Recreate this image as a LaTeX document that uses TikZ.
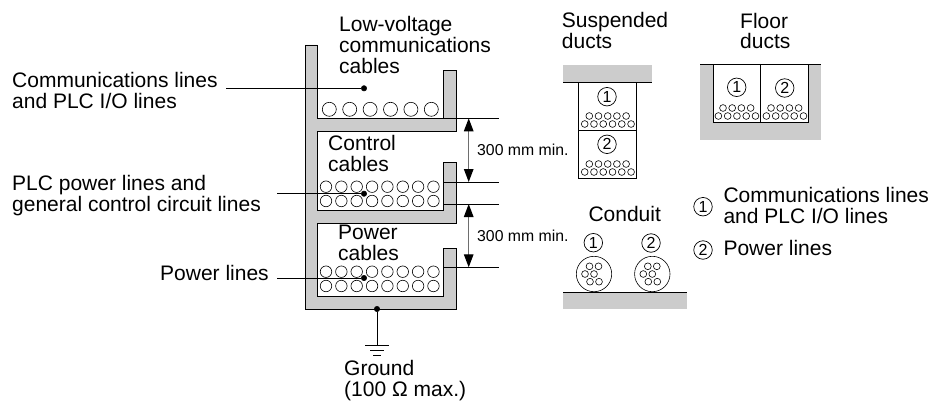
\documentclass[tikz,border=0pt]{standalone}
\usepackage{fontspec}
\setmainfont{Liberation Sans}
\usetikzlibrary{arrows.meta}
\definecolor{tray}{RGB}{204,204,204}
\definecolor{shaft}{RGB}{110,110,110}
\newcommand{\ductcables}[4]{%
  \foreach \i in {1,...,#4} \node[ductcable] (c#1a\i) at (#2+9.2*\i-9.2,#3-8) {};
  \foreach \i in {0,...,#4} \node[ductcable] (c#1b\i) at (#2-4.6+9.27*\i,#3) {};
}
\newcommand{\conduitcables}[3]{%
  \foreach \dx/\dy [count=\i] in {-4.5/-7.7, 4.5/-7.7, -9/0, 0/0, -4/7.7, 5/7.7}
    \node[ductcable] (c#1x\i) at (#2+\dx,#3+\dy) {};
}
\begin{document}
\begin{tikzpicture}[x=1pt, y=-1pt,
  label/.style={anchor=base west, align=left, inner sep=0pt, font=\fontsize{21}{20.8}\selectfont},
  small/.style={anchor=base west, inner sep=0pt, font=\fontsize{15.8}{18}\selectfont},
  num/.style={draw, circle, inner sep=0pt, minimum size=18.5pt, line width=0.7pt, font=\fontsize{16}{16}\selectfont},
  dot/.style={draw, fill=black, circle, inner sep=0pt, minimum size=5.5pt},
  cable/.style={draw, circle, inner sep=0pt, line width=0.6pt},
  ductcable/.style={cable, minimum size=6.8pt},
  wire/.style={line width=0.8pt},
  block/.style={fill=tray},
  duct/.style={draw, line width=0.8pt, fill=white},
  dim/.style={{Triangle[black,length=13pt,width=9.5pt]}-{Triangle[black,length=13pt,width=9.5pt]}, shaft, line width=1.3pt}]
  \useasboundingbox (0,0) rectangle (933,401);

  \draw[block, line width=0.8pt] (305,45) -- (317,45) -- (317,118.3) -- (443,118.3) -- (443,70.7) -- (456,70.7)
    -- (456,131) -- (317,131) -- (317,210.3) -- (443,210.3) -- (443,162.7) -- (456,162.7)
    -- (456,223.3) -- (317,223.3) -- (317,296.3) -- (443,296.3) -- (443,248.7) -- (456,248.7)
    -- (456,309) -- (305,309) -- cycle;

  \foreach \i in {0,...,5} \node[cable, minimum size=14pt] (top\i) at (329.3+20.4*\i,109.3) {};
  \foreach \i in {0,...,7} {
    \node[cable, minimum size=11.5pt] (mida\i) at (326+15.35*\i,186.7) {};
    \node[cable, minimum size=11.5pt] (midb\i) at (326+15.35*\i,201) {};
    \node[cable, minimum size=11.5pt] (lowa\i) at (326+15.35*\i,271.7) {};
    \node[cable, minimum size=11.5pt] (lowb\i) at (326+15.35*\i,286) {};
  }

  \node[label] (lowv) at (339,73.3) {Low-voltage\\communications\\cables};
  \node[label] (ctrl) at (328,171.7) {Control\\cables};
  \node[label] (powr) at (338,260.7) {Power\\cables};
  \node[label] (comm) at (12,108.4) {Communications lines\\and PLC I/O lines};
  \node[label] (plc) at (12,211.7) {PLC power lines and\\general control circuit lines};
  \node[label] (pwl) at (160,280) {Power lines};
  \node[label] (gnd) at (344,396.7) {Ground\\(100 Ω max.)};

  \node[dot] (d1) at (364,88.3) {};
  \node[dot] (d2) at (364,193.7) {};
  \node[dot] (d3) at (364,278) {};
  \coordinate (w1) at (226,88.3);
  \coordinate (w2) at (277,193.7);
  \coordinate (w3) at (277,278);
  \draw[wire] (w1) -- (d1);
  \draw[wire] (w2) -- (d2);
  \draw[wire] (w3) -- (d3);

  \coordinate (t1) at (443,118.3); \coordinate (e1) at (499,118.3);
  \coordinate (t2) at (443,182);   \coordinate (e2) at (499,182);
  \coordinate (t3) at (443,204);   \coordinate (e3) at (499,204);
  \coordinate (t4) at (443,267.3); \coordinate (e4) at (499,267.3);
  \draw[wire] (t1) -- (e1);
  \draw[wire] (t2) -- (e2);
  \draw[wire] (t3) -- (e3);
  \draw[wire] (t4) -- (e4);
  \coordinate (a1) at (468.7,118.3); \coordinate (a2) at (468.7,182);
  \coordinate (a3) at (468.7,204);   \coordinate (a4) at (468.7,267.3);
  \draw[dim] (a1) -- (a2);
  \draw[dim] (a3) -- (a4);
  \node[small] (min1) at (477,155) {300 mm min.};
  \node[small] (min2) at (477,241.7) {300 mm min.};

  \node[dot] (gdot) at (377,309) {};
  \coordinate (g1) at (377,345.7);
  \draw[wire] (gdot) -- (g1);
  \draw[wire] (365,345.7) -- (389,345.7);
  \draw[wire] (370,350.7) -- (384,350.7);
  \draw[wire] (373,355.7) -- (381,355.7);

  \node[label] (susp) at (561.7,48.7) {Suspended\\ducts};
  \fill[block] (563,65) rectangle (651.7,82.7);
  \draw[duct] (578.7,82.7) rectangle (636.7,178.3);
  \draw[wire] (563,82.7) -- (651.7,82.7);
  \draw[duct] (578.7,130.3) -- (636.7,130.3);
  \node[num] (s1) at (607,96.7) {1};
  \node[num] (s2) at (607,144.3) {2};
  \ductcables{s1}{589.3}{124}{5}
  \ductcables{s2}{589.3}{172}{5}

  \node[label] (floor) at (740,49) {Floor\\ducts};
  \fill[block] (700,64) rectangle (820.7,139.7);
  \draw[duct] (713.3,64) rectangle (808.7,122.3);
  \draw[wire] (700,64) -- (820.7,64);
  \draw[wire] (760.3,64) -- (760.3,122.3);
  \node[num] (f1) at (736.7,87.3) {1};
  \node[num] (f2) at (784.7,88) {2};
  \ductcables{f1}{723}{116}{4}
  \ductcables{f2}{771}{116}{4}

  \node[label] (cond) at (588.3,221) {Conduit};
  \fill[block] (563,292.3) rectangle (686.7,308.7);
  \draw[wire] (563,292.3) -- (686.7,292.3);
  \node[num] (k1) at (593.3,242.7) {1};
  \node[num] (k2) at (651,243) {2};
  \node[cable, minimum size=35.4pt] (p1) at (594,274) {};
  \node[cable, minimum size=35.4pt] (p2) at (652.3,274) {};
  \conduitcables{p1}{594}{274}
  \conduitcables{p2}{652.3}{274}

  \node[num] (l1) at (703,206.7) {1};
  \node[num] (l2) at (703,250) {2};
  \node[label] (lcomm) at (723.3,223.7) {Communications lines\\and PLC I/O lines};
  \node[label] (lpow) at (723.3,255.7) {Power lines};
\end{tikzpicture}
\end{document}
